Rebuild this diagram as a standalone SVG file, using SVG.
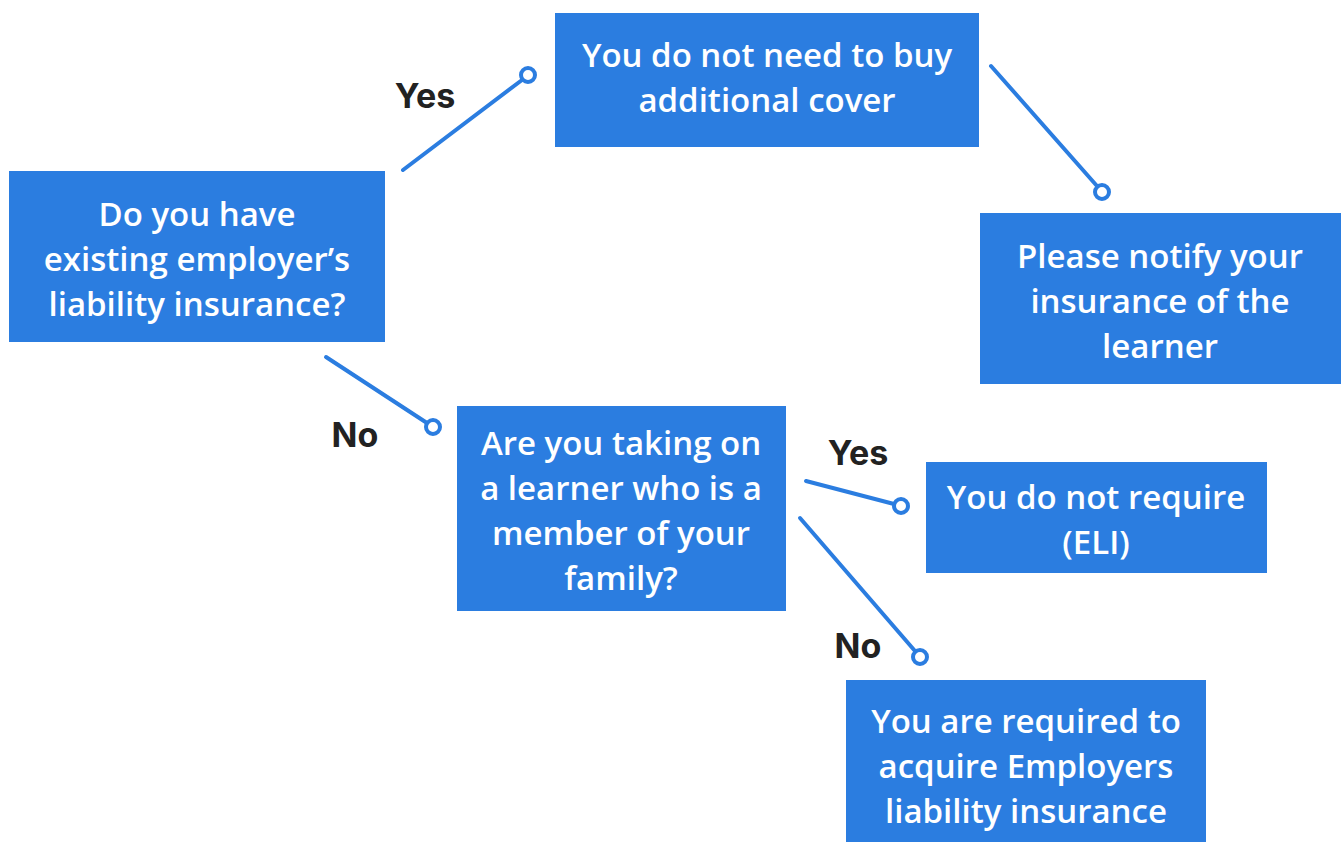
<svg xmlns="http://www.w3.org/2000/svg" width="1341" height="843" viewBox="0 0 1341 843">
<style>
.box{fill:#2B7DE0}
.t{font-family:"Open Sans","Noto Sans",sans-serif;font-weight:600;font-size:33px;fill:#fff;text-anchor:middle}
.lbl{font-family:Inter,"Liberation Sans",sans-serif;font-weight:700;font-size:34px;fill:#222;text-anchor:middle}
.c line{stroke:#2B7DE0;stroke-width:4;stroke-linecap:round}
.c circle{fill:#fff;stroke:#2B7DE0;stroke-width:4}
</style>
<rect width="1341" height="843" fill="#fff"/>
<g id="n1"><rect class="box" x="9" y="171" width="376" height="171"/>
<text class="t" x="197" y="226">Do you have</text><text class="t" x="197" y="271">existing employer’s</text><text class="t" x="197" y="316">liability insurance?</text></g>
<g id="n2"><rect class="box" x="555" y="13" width="424" height="134"/>
<text class="t" x="767" y="67">You do not need to buy</text><text class="t" x="767" y="112">additional cover</text></g>
<g id="n3"><rect class="box" x="980" y="213" width="361" height="171"/>
<text class="t" x="1160" y="268">Please notify your</text><text class="t" x="1160" y="313">insurance of the</text><text class="t" x="1160" y="358">learner</text></g>
<g id="n4"><rect class="box" x="457" y="406" width="329" height="205"/>
<text class="t" x="621" y="455">Are you taking on</text><text class="t" x="621" y="500">a learner who is a</text><text class="t" x="621" y="545">member of your</text><text class="t" x="621" y="590">family?</text></g>
<g id="n5"><rect class="box" x="926" y="462" width="341" height="111"/>
<text class="t" x="1096" y="509">You do not require</text><text class="t" x="1096" y="554">(ELI)</text></g>
<g id="n6"><rect class="box" x="846" y="680" width="360" height="162"/>
<text class="t" x="1026" y="733">You are required to</text><text class="t" x="1026" y="778">acquire Employers</text><text class="t" x="1026" y="823">liability insurance</text></g>
<g id="connectors" class="c">
<line x1="403" y1="170" x2="522" y2="80"/><circle cx="528" cy="75" r="7"/>
<line x1="326" y1="357" x2="427" y2="423"/><circle cx="433" cy="427" r="7"/>
<line x1="991" y1="66" x2="1097" y2="186"/><circle cx="1102" cy="192" r="7"/>
<line x1="806" y1="481" x2="894" y2="504"/><circle cx="901" cy="506" r="7"/>
<line x1="800" y1="518" x2="915" y2="651"/><circle cx="920" cy="657" r="7"/>
</g>
<g id="labels">
<text class="lbl" x="425" y="108">Yes</text>
<text class="lbl" x="355" y="447">No</text>
<text class="lbl" x="858" y="465">Yes</text>
<text class="lbl" x="858" y="658">No</text>
</g>
</svg>
